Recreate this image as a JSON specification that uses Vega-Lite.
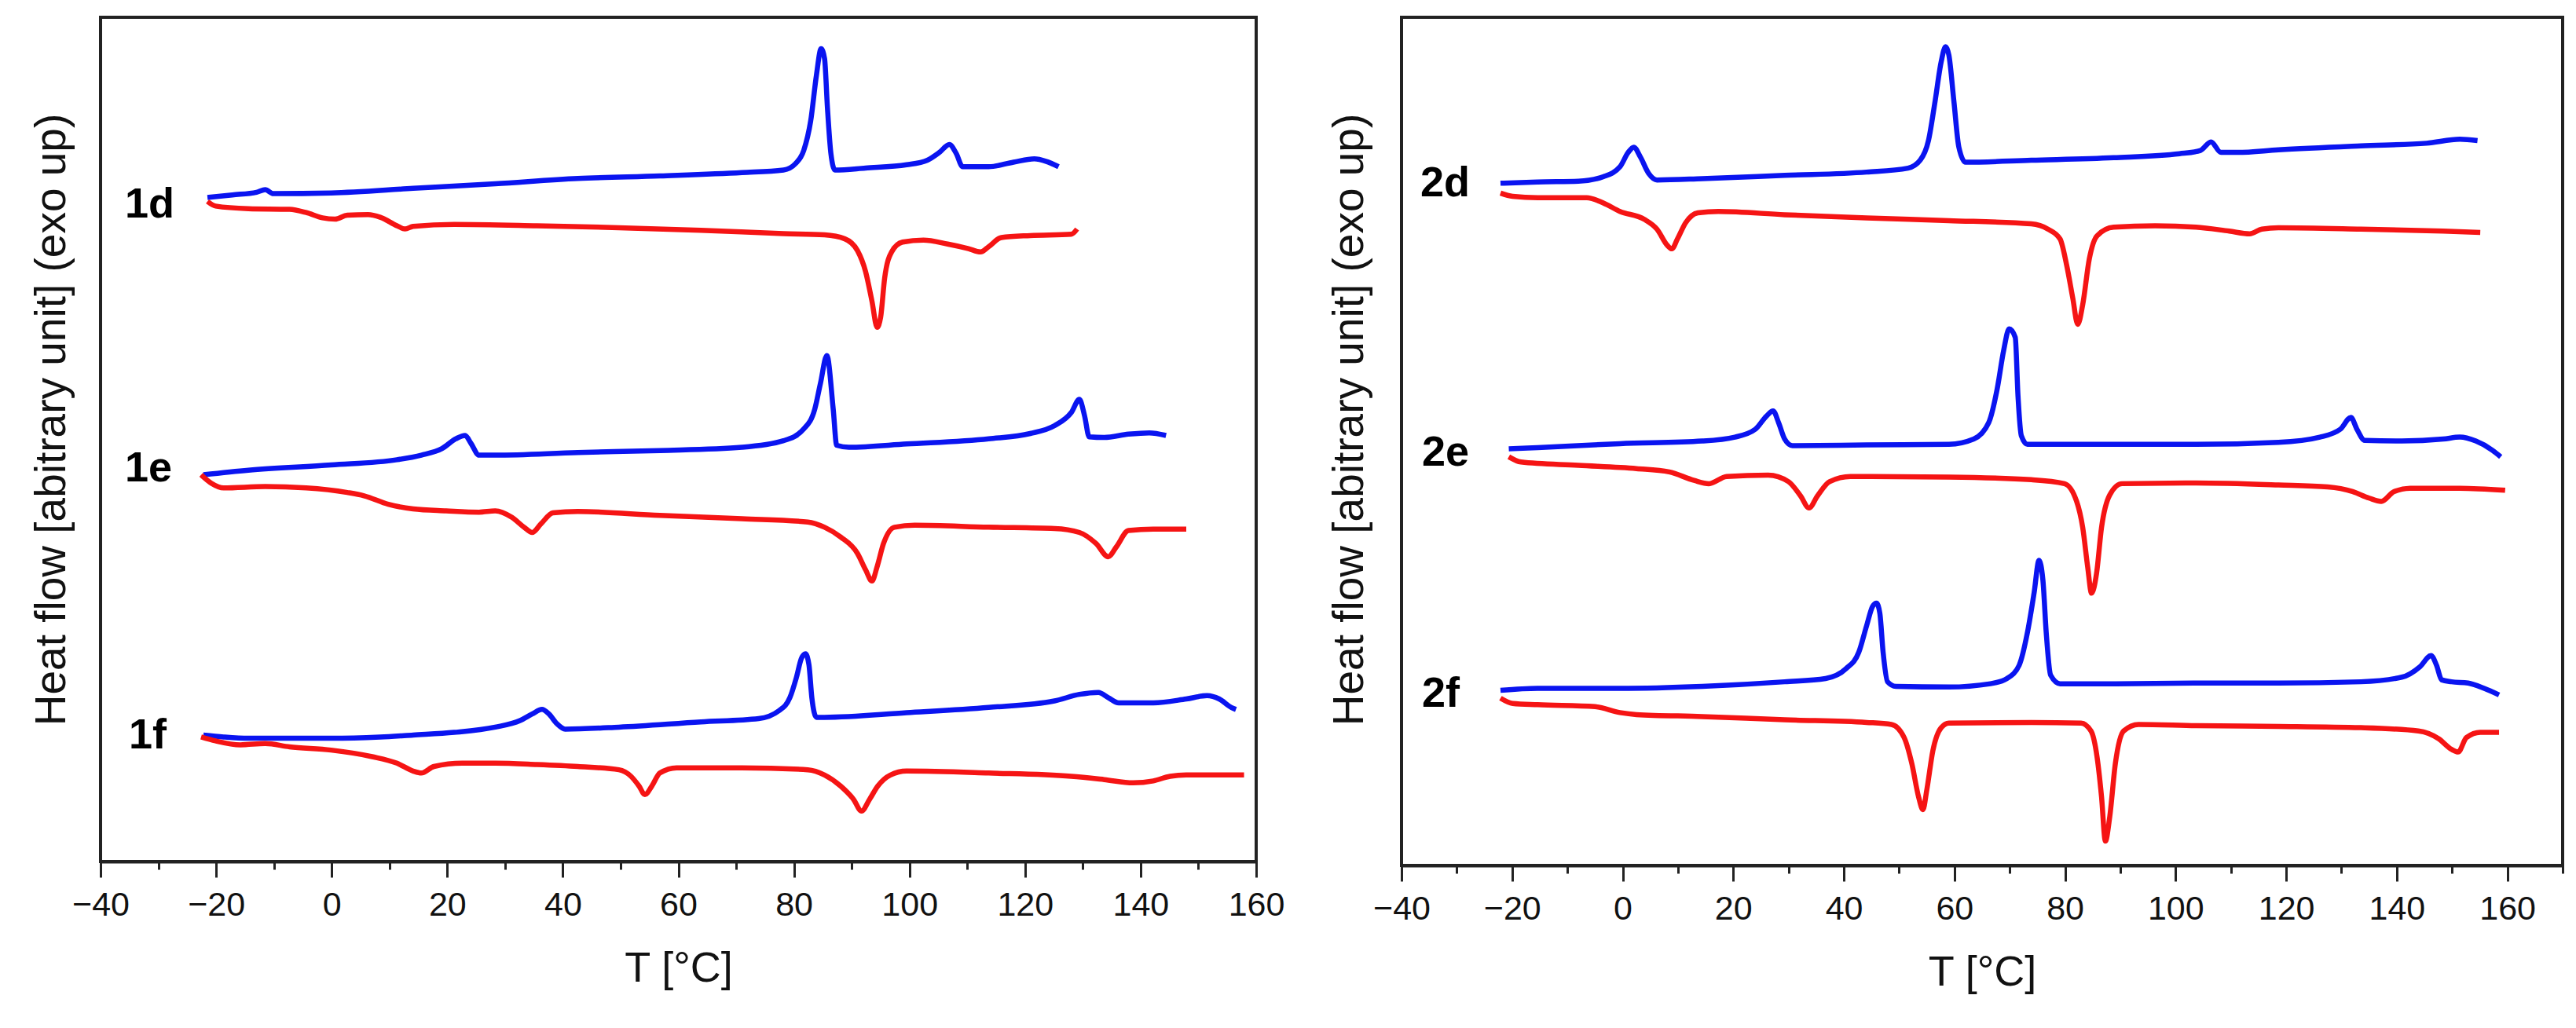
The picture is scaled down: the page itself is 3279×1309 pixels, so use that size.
{
 "$schema": "https://vega.github.io/schema/vega-lite/v6.json",
 "background": "white",
 "padding": {"left": 36, "top": 20, "right": 5, "bottom": 5},
 "spacing": 185,
 "bounds": "flush",
 "config": {
  "view": {"stroke": "#222222", "strokeWidth": 4},
  "font": "Liberation Sans",
  "axis": {"labelFont": "Liberation Sans", "labelFontSize": 43, "labelColor": "#111111", "titleFont": "Liberation Sans", "titleFontSize": 54, "titleFontWeight": "normal", "titleColor": "#111111", "domainColor": "#222222", "domainWidth": 4, "tickColor": "#222222", "tickWidth": 3, "grid": false}
 },
 "datasets": {
  "left": [
   {"sample":"1d","scan":"cooling","T":-21.5,"hf":101.3},{"sample":"1d","scan":"cooling","T":-17.2,"hf":101.7},{"sample":"1d","scan":"cooling","T":-13.0,"hf":102.1},{"sample":"1d","scan":"cooling","T":-11.5,"hf":102.5},{"sample":"1d","scan":"cooling","T":-10.1,"hf":101.9},{"sample":"1d","scan":"cooling","T":-0.1,"hf":102.0},{"sample":"1d","scan":"cooling","T":14.1,"hf":102.7},{"sample":"1d","scan":"cooling","T":28.3,"hf":103.4},{"sample":"1d","scan":"cooling","T":42.6,"hf":104.2},{"sample":"1d","scan":"cooling","T":56.8,"hf":104.6},{"sample":"1d","scan":"cooling","T":71.0,"hf":105.1},{"sample":"1d","scan":"cooling","T":78.2,"hf":105.5},{"sample":"1d","scan":"cooling","T":80.3,"hf":106.5},{"sample":"1d","scan":"cooling","T":81.7,"hf":108.5},{"sample":"1d","scan":"cooling","T":82.9,"hf":113.0},{"sample":"1d","scan":"cooling","T":83.9,"hf":120.0},{"sample":"1d","scan":"cooling","T":84.7,"hf":124.0},{"sample":"1d","scan":"cooling","T":85.3,"hf":122.5},{"sample":"1d","scan":"cooling","T":85.8,"hf":115.0},{"sample":"1d","scan":"cooling","T":86.4,"hf":108.0},{"sample":"1d","scan":"cooling","T":87.1,"hf":105.5},{"sample":"1d","scan":"cooling","T":92.4,"hf":105.8},{"sample":"1d","scan":"cooling","T":99.5,"hf":106.3},{"sample":"1d","scan":"cooling","T":103.1,"hf":107.0},{"sample":"1d","scan":"cooling","T":105.2,"hf":108.2},{"sample":"1d","scan":"cooling","T":106.9,"hf":109.4},{"sample":"1d","scan":"cooling","T":108.1,"hf":108.0},{"sample":"1d","scan":"cooling","T":109.2,"hf":106.0},{"sample":"1d","scan":"cooling","T":113.7,"hf":106.0},{"sample":"1d","scan":"cooling","T":118.0,"hf":106.7},{"sample":"1d","scan":"cooling","T":121.6,"hf":107.2},{"sample":"1d","scan":"cooling","T":123.7,"hf":106.8},{"sample":"1d","scan":"cooling","T":125.8,"hf":106.0},
   {"sample":"1d","scan":"heating","T":-21.5,"hf":100.7},{"sample":"1d","scan":"heating","T":-20.1,"hf":100.0},{"sample":"1d","scan":"heating","T":-14.4,"hf":99.6},{"sample":"1d","scan":"heating","T":-7.3,"hf":99.5},{"sample":"1d","scan":"heating","T":-4.4,"hf":99.0},{"sample":"1d","scan":"heating","T":-1.6,"hf":98.2},{"sample":"1d","scan":"heating","T":0.6,"hf":98.0},{"sample":"1d","scan":"heating","T":2.7,"hf":98.6},{"sample":"1d","scan":"heating","T":6.3,"hf":98.7},{"sample":"1d","scan":"heating","T":8.4,"hf":98.3},{"sample":"1d","scan":"heating","T":11.3,"hf":97.0},{"sample":"1d","scan":"heating","T":12.7,"hf":96.5},{"sample":"1d","scan":"heating","T":14.1,"hf":96.9},{"sample":"1d","scan":"heating","T":21.2,"hf":97.2},{"sample":"1d","scan":"heating","T":35.5,"hf":97.0},{"sample":"1d","scan":"heating","T":49.7,"hf":96.7},{"sample":"1d","scan":"heating","T":63.9,"hf":96.3},{"sample":"1d","scan":"heating","T":78.2,"hf":95.8},{"sample":"1d","scan":"heating","T":85.3,"hf":95.6},{"sample":"1d","scan":"heating","T":88.8,"hf":95.0},{"sample":"1d","scan":"heating","T":91.0,"hf":93.2},{"sample":"1d","scan":"heating","T":92.4,"hf":90.0},{"sample":"1d","scan":"heating","T":93.5,"hf":85.5},{"sample":"1d","scan":"heating","T":94.4,"hf":81.5},{"sample":"1d","scan":"heating","T":95.0,"hf":83.0},{"sample":"1d","scan":"heating","T":95.7,"hf":89.0},{"sample":"1d","scan":"heating","T":96.9,"hf":93.0},{"sample":"1d","scan":"heating","T":98.8,"hf":94.5},{"sample":"1d","scan":"heating","T":102.4,"hf":94.8},{"sample":"1d","scan":"heating","T":106.6,"hf":94.2},{"sample":"1d","scan":"heating","T":110.2,"hf":93.5},{"sample":"1d","scan":"heating","T":112.3,"hf":93.0},{"sample":"1d","scan":"heating","T":113.7,"hf":93.8},{"sample":"1d","scan":"heating","T":115.9,"hf":95.2},{"sample":"1d","scan":"heating","T":120.9,"hf":95.5},{"sample":"1d","scan":"heating","T":128.0,"hf":95.7},{"sample":"1d","scan":"heating","T":129.0,"hf":96.5},
   {"sample":"1e","scan":"cooling","T":-22.2,"hf":59.0},{"sample":"1e","scan":"cooling","T":-14.4,"hf":59.7},{"sample":"1e","scan":"cooling","T":-0.1,"hf":60.5},{"sample":"1e","scan":"cooling","T":11.3,"hf":61.3},{"sample":"1e","scan":"cooling","T":15.5,"hf":62.0},{"sample":"1e","scan":"cooling","T":19.1,"hf":63.0},{"sample":"1e","scan":"cooling","T":21.5,"hf":64.5},{"sample":"1e","scan":"cooling","T":23.1,"hf":65.0},{"sample":"1e","scan":"cooling","T":24.1,"hf":63.8},{"sample":"1e","scan":"cooling","T":25.5,"hf":62.0},{"sample":"1e","scan":"cooling","T":28.3,"hf":62.0},{"sample":"1e","scan":"cooling","T":42.6,"hf":62.4},{"sample":"1e","scan":"cooling","T":56.8,"hf":62.7},{"sample":"1e","scan":"cooling","T":71.0,"hf":63.2},{"sample":"1e","scan":"cooling","T":78.2,"hf":64.2},{"sample":"1e","scan":"cooling","T":81.7,"hf":66.0},{"sample":"1e","scan":"cooling","T":83.6,"hf":69.0},{"sample":"1e","scan":"cooling","T":84.6,"hf":73.0},{"sample":"1e","scan":"cooling","T":85.7,"hf":77.2},{"sample":"1e","scan":"cooling","T":86.8,"hf":69.0},{"sample":"1e","scan":"cooling","T":87.4,"hf":63.5},{"sample":"1e","scan":"cooling","T":89.5,"hf":63.2},{"sample":"1e","scan":"cooling","T":99.5,"hf":63.7},{"sample":"1e","scan":"cooling","T":113.7,"hf":64.5},{"sample":"1e","scan":"cooling","T":120.9,"hf":65.3},{"sample":"1e","scan":"cooling","T":125.1,"hf":66.5},{"sample":"1e","scan":"cooling","T":128.0,"hf":68.5},{"sample":"1e","scan":"cooling","T":129.4,"hf":70.5},{"sample":"1e","scan":"cooling","T":130.3,"hf":68.0},{"sample":"1e","scan":"cooling","T":131.1,"hf":64.8},{"sample":"1e","scan":"cooling","T":133.7,"hf":64.7},{"sample":"1e","scan":"cooling","T":137.9,"hf":65.2},{"sample":"1e","scan":"cooling","T":141.5,"hf":65.4},{"sample":"1e","scan":"cooling","T":144.4,"hf":65.0},
   {"sample":"1e","scan":"heating","T":-22.6,"hf":59.0},{"sample":"1e","scan":"heating","T":-20.8,"hf":57.7},{"sample":"1e","scan":"heating","T":-18.7,"hf":57.0},{"sample":"1e","scan":"heating","T":-11.5,"hf":57.2},{"sample":"1e","scan":"heating","T":-4.4,"hf":57.0},{"sample":"1e","scan":"heating","T":2.7,"hf":56.3},{"sample":"1e","scan":"heating","T":5.6,"hf":55.8},{"sample":"1e","scan":"heating","T":9.8,"hf":54.5},{"sample":"1e","scan":"heating","T":14.1,"hf":53.8},{"sample":"1e","scan":"heating","T":19.8,"hf":53.5},{"sample":"1e","scan":"heating","T":25.5,"hf":53.3},{"sample":"1e","scan":"heating","T":28.3,"hf":53.5},{"sample":"1e","scan":"heating","T":31.2,"hf":52.5},{"sample":"1e","scan":"heating","T":33.3,"hf":51.0},{"sample":"1e","scan":"heating","T":34.7,"hf":50.2},{"sample":"1e","scan":"heating","T":36.2,"hf":51.5},{"sample":"1e","scan":"heating","T":38.3,"hf":53.2},{"sample":"1e","scan":"heating","T":42.6,"hf":53.4},{"sample":"1e","scan":"heating","T":56.8,"hf":52.8},{"sample":"1e","scan":"heating","T":71.0,"hf":52.3},{"sample":"1e","scan":"heating","T":82.4,"hf":51.8},{"sample":"1e","scan":"heating","T":85.3,"hf":51.0},{"sample":"1e","scan":"heating","T":88.1,"hf":49.5},{"sample":"1e","scan":"heating","T":91.0,"hf":47.0},{"sample":"1e","scan":"heating","T":92.4,"hf":44.5},{"sample":"1e","scan":"heating","T":93.5,"hf":42.8},{"sample":"1e","scan":"heating","T":94.4,"hf":45.0},{"sample":"1e","scan":"heating","T":95.5,"hf":48.5},{"sample":"1e","scan":"heating","T":97.4,"hf":51.0},{"sample":"1e","scan":"heating","T":100.9,"hf":51.3},{"sample":"1e","scan":"heating","T":113.7,"hf":51.0},{"sample":"1e","scan":"heating","T":125.1,"hf":50.8},{"sample":"1e","scan":"heating","T":129.4,"hf":50.2},{"sample":"1e","scan":"heating","T":132.3,"hf":48.5},{"sample":"1e","scan":"heating","T":134.4,"hf":46.5},{"sample":"1e","scan":"heating","T":135.8,"hf":48.0},{"sample":"1e","scan":"heating","T":137.9,"hf":50.5},{"sample":"1e","scan":"heating","T":142.2,"hf":50.7},{"sample":"1e","scan":"heating","T":147.9,"hf":50.7},
   {"sample":"1f","scan":"cooling","T":-22.2,"hf":19.3},{"sample":"1f","scan":"cooling","T":-18.7,"hf":19.0},{"sample":"1f","scan":"cooling","T":-14.4,"hf":18.8},{"sample":"1f","scan":"cooling","T":-0.1,"hf":18.8},{"sample":"1f","scan":"cooling","T":8.4,"hf":19.0},{"sample":"1f","scan":"cooling","T":14.1,"hf":19.3},{"sample":"1f","scan":"cooling","T":21.2,"hf":19.7},{"sample":"1f","scan":"cooling","T":28.3,"hf":20.5},{"sample":"1f","scan":"cooling","T":32.6,"hf":21.5},{"sample":"1f","scan":"cooling","T":34.7,"hf":22.5},{"sample":"1f","scan":"cooling","T":36.4,"hf":23.2},{"sample":"1f","scan":"cooling","T":37.6,"hf":22.5},{"sample":"1f","scan":"cooling","T":39.0,"hf":21.0},{"sample":"1f","scan":"cooling","T":40.4,"hf":20.2},{"sample":"1f","scan":"cooling","T":49.7,"hf":20.5},{"sample":"1f","scan":"cooling","T":63.9,"hf":21.3},{"sample":"1f","scan":"cooling","T":73.9,"hf":21.8},{"sample":"1f","scan":"cooling","T":77.4,"hf":23.0},{"sample":"1f","scan":"cooling","T":79.3,"hf":25.0},{"sample":"1f","scan":"cooling","T":80.4,"hf":28.0},{"sample":"1f","scan":"cooling","T":81.3,"hf":31.0},{"sample":"1f","scan":"cooling","T":82.0,"hf":31.7},{"sample":"1f","scan":"cooling","T":82.6,"hf":30.0},{"sample":"1f","scan":"cooling","T":83.1,"hf":25.0},{"sample":"1f","scan":"cooling","T":83.9,"hf":22.0},{"sample":"1f","scan":"cooling","T":85.3,"hf":22.0},{"sample":"1f","scan":"cooling","T":99.5,"hf":22.7},{"sample":"1f","scan":"cooling","T":113.7,"hf":23.5},{"sample":"1f","scan":"cooling","T":125.1,"hf":24.5},{"sample":"1f","scan":"cooling","T":129.4,"hf":25.5},{"sample":"1f","scan":"cooling","T":132.7,"hf":25.8},{"sample":"1f","scan":"cooling","T":134.4,"hf":25.0},{"sample":"1f","scan":"cooling","T":136.2,"hf":24.2},{"sample":"1f","scan":"cooling","T":142.2,"hf":24.2},{"sample":"1f","scan":"cooling","T":147.9,"hf":24.8},{"sample":"1f","scan":"cooling","T":151.5,"hf":25.3},{"sample":"1f","scan":"cooling","T":153.6,"hf":24.8},{"sample":"1f","scan":"cooling","T":155.7,"hf":23.5},{"sample":"1f","scan":"cooling","T":156.5,"hf":23.2},
   {"sample":"1f","scan":"heating","T":-22.6,"hf":19.0},{"sample":"1f","scan":"heating","T":-20.1,"hf":18.4},{"sample":"1f","scan":"heating","T":-15.8,"hf":17.8},{"sample":"1f","scan":"heating","T":-11.5,"hf":18.0},{"sample":"1f","scan":"heating","T":-7.3,"hf":17.5},{"sample":"1f","scan":"heating","T":-0.1,"hf":17.0},{"sample":"1f","scan":"heating","T":7.0,"hf":16.0},{"sample":"1f","scan":"heating","T":11.3,"hf":15.0},{"sample":"1f","scan":"heating","T":14.1,"hf":13.8},{"sample":"1f","scan":"heating","T":15.5,"hf":13.5},{"sample":"1f","scan":"heating","T":17.7,"hf":14.5},{"sample":"1f","scan":"heating","T":22.6,"hf":15.0},{"sample":"1f","scan":"heating","T":28.3,"hf":15.0},{"sample":"1f","scan":"heating","T":35.5,"hf":14.8},{"sample":"1f","scan":"heating","T":42.6,"hf":14.5},{"sample":"1f","scan":"heating","T":49.7,"hf":14.0},{"sample":"1f","scan":"heating","T":51.8,"hf":13.0},{"sample":"1f","scan":"heating","T":53.2,"hf":11.5},{"sample":"1f","scan":"heating","T":54.2,"hf":10.2},{"sample":"1f","scan":"heating","T":55.4,"hf":11.5},{"sample":"1f","scan":"heating","T":56.8,"hf":13.5},{"sample":"1f","scan":"heating","T":59.7,"hf":14.3},{"sample":"1f","scan":"heating","T":71.0,"hf":14.3},{"sample":"1f","scan":"heating","T":82.4,"hf":14.0},{"sample":"1f","scan":"heating","T":85.3,"hf":13.2},{"sample":"1f","scan":"heating","T":88.1,"hf":11.5},{"sample":"1f","scan":"heating","T":90.3,"hf":9.5},{"sample":"1f","scan":"heating","T":91.7,"hf":7.7},{"sample":"1f","scan":"heating","T":93.1,"hf":9.5},{"sample":"1f","scan":"heating","T":94.5,"hf":11.5},{"sample":"1f","scan":"heating","T":96.7,"hf":13.2},{"sample":"1f","scan":"heating","T":99.5,"hf":13.8},{"sample":"1f","scan":"heating","T":113.7,"hf":13.5},{"sample":"1f","scan":"heating","T":128.0,"hf":13.0},{"sample":"1f","scan":"heating","T":133.7,"hf":12.5},{"sample":"1f","scan":"heating","T":138.7,"hf":12.0},{"sample":"1f","scan":"heating","T":142.2,"hf":12.3},{"sample":"1f","scan":"heating","T":145.1,"hf":13.0},{"sample":"1f","scan":"heating","T":147.9,"hf":13.2},{"sample":"1f","scan":"heating","T":157.9,"hf":13.2}
  ],
  "right": [
   {"sample":"2d","scan":"cooling","T":-22.1,"hf":104.0},{"sample":"2d","scan":"cooling","T":-15.4,"hf":104.2},{"sample":"2d","scan":"cooling","T":-8.0,"hf":104.3},{"sample":"2d","scan":"cooling","T":-3.5,"hf":105.0},{"sample":"2d","scan":"cooling","T":-0.5,"hf":106.5},{"sample":"2d","scan":"cooling","T":1.0,"hf":108.7},{"sample":"2d","scan":"cooling","T":2.0,"hf":109.5},{"sample":"2d","scan":"cooling","T":3.2,"hf":108.0},{"sample":"2d","scan":"cooling","T":4.7,"hf":105.5},{"sample":"2d","scan":"cooling","T":6.2,"hf":104.5},{"sample":"2d","scan":"cooling","T":14.4,"hf":104.7},{"sample":"2d","scan":"cooling","T":29.3,"hf":105.2},{"sample":"2d","scan":"cooling","T":44.1,"hf":105.7},{"sample":"2d","scan":"cooling","T":51.6,"hf":106.3},{"sample":"2d","scan":"cooling","T":53.8,"hf":107.5},{"sample":"2d","scan":"cooling","T":55.3,"hf":110.5},{"sample":"2d","scan":"cooling","T":56.5,"hf":116.5},{"sample":"2d","scan":"cooling","T":57.6,"hf":122.5},{"sample":"2d","scan":"cooling","T":58.4,"hf":124.8},{"sample":"2d","scan":"cooling","T":59.0,"hf":123.5},{"sample":"2d","scan":"cooling","T":59.9,"hf":116.5},{"sample":"2d","scan":"cooling","T":60.8,"hf":109.5},{"sample":"2d","scan":"cooling","T":62.0,"hf":107.2},{"sample":"2d","scan":"cooling","T":73.9,"hf":107.5},{"sample":"2d","scan":"cooling","T":88.8,"hf":107.9},{"sample":"2d","scan":"cooling","T":100.7,"hf":108.5},{"sample":"2d","scan":"cooling","T":104.5,"hf":109.0},{"sample":"2d","scan":"cooling","T":106.4,"hf":110.3},{"sample":"2d","scan":"cooling","T":108.2,"hf":108.7},{"sample":"2d","scan":"cooling","T":111.2,"hf":108.7},{"sample":"2d","scan":"cooling","T":118.6,"hf":109.1},{"sample":"2d","scan":"cooling","T":133.5,"hf":109.7},{"sample":"2d","scan":"cooling","T":145.4,"hf":110.1},{"sample":"2d","scan":"cooling","T":151.4,"hf":110.7},{"sample":"2d","scan":"cooling","T":154.6,"hf":110.5},
   {"sample":"2d","scan":"heating","T":-22.1,"hf":102.5},{"sample":"2d","scan":"heating","T":-19.9,"hf":102.0},{"sample":"2d","scan":"heating","T":-15.4,"hf":101.8},{"sample":"2d","scan":"heating","T":-6.5,"hf":101.8},{"sample":"2d","scan":"heating","T":-3.5,"hf":101.0},{"sample":"2d","scan":"heating","T":-0.5,"hf":99.7},{"sample":"2d","scan":"heating","T":3.9,"hf":98.5},{"sample":"2d","scan":"heating","T":6.2,"hf":97.0},{"sample":"2d","scan":"heating","T":8.1,"hf":94.5},{"sample":"2d","scan":"heating","T":8.9,"hf":94.0},{"sample":"2d","scan":"heating","T":9.9,"hf":95.5},{"sample":"2d","scan":"heating","T":11.4,"hf":98.0},{"sample":"2d","scan":"heating","T":13.6,"hf":99.5},{"sample":"2d","scan":"heating","T":17.3,"hf":99.7},{"sample":"2d","scan":"heating","T":29.3,"hf":99.2},{"sample":"2d","scan":"heating","T":44.1,"hf":98.7},{"sample":"2d","scan":"heating","T":59.0,"hf":98.3},{"sample":"2d","scan":"heating","T":73.9,"hf":97.8},{"sample":"2d","scan":"heating","T":76.9,"hf":97.0},{"sample":"2d","scan":"heating","T":79.1,"hf":95.5},{"sample":"2d","scan":"heating","T":80.3,"hf":91.5},{"sample":"2d","scan":"heating","T":81.4,"hf":86.5},{"sample":"2d","scan":"heating","T":82.3,"hf":82.5},{"sample":"2d","scan":"heating","T":83.2,"hf":85.5},{"sample":"2d","scan":"heating","T":84.4,"hf":92.5},{"sample":"2d","scan":"heating","T":85.8,"hf":96.0},{"sample":"2d","scan":"heating","T":88.8,"hf":97.3},{"sample":"2d","scan":"heating","T":96.3,"hf":97.5},{"sample":"2d","scan":"heating","T":103.7,"hf":97.3},{"sample":"2d","scan":"heating","T":109.7,"hf":96.7},{"sample":"2d","scan":"heating","T":113.4,"hf":96.3},{"sample":"2d","scan":"heating","T":115.6,"hf":97.0},{"sample":"2d","scan":"heating","T":118.6,"hf":97.2},{"sample":"2d","scan":"heating","T":133.5,"hf":97.0},{"sample":"2d","scan":"heating","T":148.4,"hf":96.7},{"sample":"2d","scan":"heating","T":155.1,"hf":96.5},
   {"sample":"2e","scan":"cooling","T":-20.6,"hf":63.5},{"sample":"2e","scan":"cooling","T":-15.4,"hf":63.7},{"sample":"2e","scan":"cooling","T":-0.5,"hf":64.3},{"sample":"2e","scan":"cooling","T":14.4,"hf":64.7},{"sample":"2e","scan":"cooling","T":20.3,"hf":65.3},{"sample":"2e","scan":"cooling","T":24.0,"hf":66.5},{"sample":"2e","scan":"cooling","T":26.0,"hf":68.5},{"sample":"2e","scan":"cooling","T":27.2,"hf":69.3},{"sample":"2e","scan":"cooling","T":28.2,"hf":67.5},{"sample":"2e","scan":"cooling","T":29.3,"hf":65.0},{"sample":"2e","scan":"cooling","T":30.7,"hf":64.0},{"sample":"2e","scan":"cooling","T":44.1,"hf":64.1},{"sample":"2e","scan":"cooling","T":59.0,"hf":64.2},{"sample":"2e","scan":"cooling","T":63.5,"hf":65.0},{"sample":"2e","scan":"cooling","T":66.2,"hf":67.5},{"sample":"2e","scan":"cooling","T":67.7,"hf":72.5},{"sample":"2e","scan":"cooling","T":68.9,"hf":78.5},{"sample":"2e","scan":"cooling","T":69.9,"hf":81.8},{"sample":"2e","scan":"cooling","T":71.0,"hf":80.5},{"sample":"2e","scan":"cooling","T":71.5,"hf":71.5},{"sample":"2e","scan":"cooling","T":72.1,"hf":65.5},{"sample":"2e","scan":"cooling","T":73.2,"hf":64.2},{"sample":"2e","scan":"cooling","T":88.8,"hf":64.2},{"sample":"2e","scan":"cooling","T":103.7,"hf":64.2},{"sample":"2e","scan":"cooling","T":118.6,"hf":64.5},{"sample":"2e","scan":"cooling","T":126.1,"hf":65.3},{"sample":"2e","scan":"cooling","T":129.8,"hf":66.5},{"sample":"2e","scan":"cooling","T":131.7,"hf":68.3},{"sample":"2e","scan":"cooling","T":132.8,"hf":66.5},{"sample":"2e","scan":"cooling","T":134.2,"hf":64.8},{"sample":"2e","scan":"cooling","T":140.9,"hf":64.7},{"sample":"2e","scan":"cooling","T":148.4,"hf":65.0},{"sample":"2e","scan":"cooling","T":151.4,"hf":65.3},{"sample":"2e","scan":"cooling","T":154.3,"hf":64.7},{"sample":"2e","scan":"cooling","T":157.3,"hf":63.3},{"sample":"2e","scan":"cooling","T":158.8,"hf":62.3},
   {"sample":"2e","scan":"heating","T":-20.6,"hf":62.3},{"sample":"2e","scan":"heating","T":-18.4,"hf":61.5},{"sample":"2e","scan":"heating","T":-8.0,"hf":61.0},{"sample":"2e","scan":"heating","T":2.5,"hf":60.5},{"sample":"2e","scan":"heating","T":8.4,"hf":60.0},{"sample":"2e","scan":"heating","T":12.9,"hf":58.7},{"sample":"2e","scan":"heating","T":15.6,"hf":58.2},{"sample":"2e","scan":"heating","T":18.8,"hf":59.3},{"sample":"2e","scan":"heating","T":26.3,"hf":59.5},{"sample":"2e","scan":"heating","T":30.0,"hf":58.5},{"sample":"2e","scan":"heating","T":32.2,"hf":56.3},{"sample":"2e","scan":"heating","T":33.7,"hf":54.5},{"sample":"2e","scan":"heating","T":35.2,"hf":56.3},{"sample":"2e","scan":"heating","T":37.4,"hf":58.5},{"sample":"2e","scan":"heating","T":41.2,"hf":59.3},{"sample":"2e","scan":"heating","T":59.0,"hf":59.2},{"sample":"2e","scan":"heating","T":73.9,"hf":58.8},{"sample":"2e","scan":"heating","T":79.9,"hf":58.2},{"sample":"2e","scan":"heating","T":82.1,"hf":55.5},{"sample":"2e","scan":"heating","T":83.2,"hf":51.5},{"sample":"2e","scan":"heating","T":84.1,"hf":45.5},{"sample":"2e","scan":"heating","T":84.8,"hf":41.5},{"sample":"2e","scan":"heating","T":85.7,"hf":44.5},{"sample":"2e","scan":"heating","T":86.6,"hf":51.5},{"sample":"2e","scan":"heating","T":88.1,"hf":56.5},{"sample":"2e","scan":"heating","T":90.3,"hf":58.2},{"sample":"2e","scan":"heating","T":103.7,"hf":58.3},{"sample":"2e","scan":"heating","T":118.6,"hf":58.0},{"sample":"2e","scan":"heating","T":127.5,"hf":57.7},{"sample":"2e","scan":"heating","T":132.0,"hf":57.0},{"sample":"2e","scan":"heating","T":135.0,"hf":56.0},{"sample":"2e","scan":"heating","T":137.2,"hf":55.5},{"sample":"2e","scan":"heating","T":139.5,"hf":57.0},{"sample":"2e","scan":"heating","T":142.4,"hf":57.5},{"sample":"2e","scan":"heating","T":151.4,"hf":57.5},{"sample":"2e","scan":"heating","T":159.6,"hf":57.2},
   {"sample":"2f","scan":"cooling","T":-22.1,"hf":26.7},{"sample":"2f","scan":"cooling","T":-15.4,"hf":27.0},{"sample":"2f","scan":"cooling","T":-0.5,"hf":27.0},{"sample":"2f","scan":"cooling","T":14.4,"hf":27.3},{"sample":"2f","scan":"cooling","T":29.3,"hf":28.0},{"sample":"2f","scan":"cooling","T":36.7,"hf":28.5},{"sample":"2f","scan":"cooling","T":40.4,"hf":30.0},{"sample":"2f","scan":"cooling","T":42.7,"hf":32.5},{"sample":"2f","scan":"cooling","T":44.1,"hf":36.5},{"sample":"2f","scan":"cooling","T":45.2,"hf":39.5},{"sample":"2f","scan":"cooling","T":45.9,"hf":40.0},{"sample":"2f","scan":"cooling","T":46.5,"hf":38.5},{"sample":"2f","scan":"cooling","T":47.1,"hf":32.5},{"sample":"2f","scan":"cooling","T":47.9,"hf":28.0},{"sample":"2f","scan":"cooling","T":49.4,"hf":27.3},{"sample":"2f","scan":"cooling","T":59.0,"hf":27.2},{"sample":"2f","scan":"cooling","T":66.5,"hf":27.7},{"sample":"2f","scan":"cooling","T":69.5,"hf":28.5},{"sample":"2f","scan":"cooling","T":71.7,"hf":30.5},{"sample":"2f","scan":"cooling","T":73.2,"hf":35.5},{"sample":"2f","scan":"cooling","T":74.4,"hf":41.5},{"sample":"2f","scan":"cooling","T":75.3,"hf":46.5},{"sample":"2f","scan":"cooling","T":76.0,"hf":43.5},{"sample":"2f","scan":"cooling","T":76.6,"hf":35.5},{"sample":"2f","scan":"cooling","T":77.4,"hf":29.0},{"sample":"2f","scan":"cooling","T":79.1,"hf":27.7},{"sample":"2f","scan":"cooling","T":88.8,"hf":27.7},{"sample":"2f","scan":"cooling","T":103.7,"hf":27.8},{"sample":"2f","scan":"cooling","T":118.6,"hf":27.8},{"sample":"2f","scan":"cooling","T":133.5,"hf":28.0},{"sample":"2f","scan":"cooling","T":140.9,"hf":28.7},{"sample":"2f","scan":"cooling","T":144.2,"hf":30.3},{"sample":"2f","scan":"cooling","T":146.2,"hf":32.0},{"sample":"2f","scan":"cooling","T":147.2,"hf":30.5},{"sample":"2f","scan":"cooling","T":148.1,"hf":28.3},{"sample":"2f","scan":"cooling","T":149.9,"hf":28.0},{"sample":"2f","scan":"cooling","T":152.9,"hf":27.8},{"sample":"2f","scan":"cooling","T":155.8,"hf":27.0},{"sample":"2f","scan":"cooling","T":158.5,"hf":26.0},
   {"sample":"2f","scan":"heating","T":-22.1,"hf":25.5},{"sample":"2f","scan":"heating","T":-19.9,"hf":24.7},{"sample":"2f","scan":"heating","T":-15.4,"hf":24.5},{"sample":"2f","scan":"heating","T":-5.0,"hf":24.2},{"sample":"2f","scan":"heating","T":-0.5,"hf":23.3},{"sample":"2f","scan":"heating","T":2.5,"hf":23.0},{"sample":"2f","scan":"heating","T":14.4,"hf":22.7},{"sample":"2f","scan":"heating","T":29.3,"hf":22.2},{"sample":"2f","scan":"heating","T":44.1,"hf":21.8},{"sample":"2f","scan":"heating","T":48.6,"hf":21.5},{"sample":"2f","scan":"heating","T":50.9,"hf":19.5},{"sample":"2f","scan":"heating","T":52.3,"hf":15.5},{"sample":"2f","scan":"heating","T":53.5,"hf":10.5},{"sample":"2f","scan":"heating","T":54.3,"hf":8.5},{"sample":"2f","scan":"heating","T":55.0,"hf":11.5},{"sample":"2f","scan":"heating","T":56.1,"hf":17.5},{"sample":"2f","scan":"heating","T":57.6,"hf":21.0},{"sample":"2f","scan":"heating","T":59.0,"hf":21.7},{"sample":"2f","scan":"heating","T":73.9,"hf":21.8},{"sample":"2f","scan":"heating","T":82.9,"hf":21.7},{"sample":"2f","scan":"heating","T":84.7,"hf":20.5},{"sample":"2f","scan":"heating","T":85.8,"hf":16.5},{"sample":"2f","scan":"heating","T":86.6,"hf":10.5},{"sample":"2f","scan":"heating","T":87.3,"hf":3.7},{"sample":"2f","scan":"heating","T":88.1,"hf":7.5},{"sample":"2f","scan":"heating","T":89.1,"hf":15.5},{"sample":"2f","scan":"heating","T":90.6,"hf":20.5},{"sample":"2f","scan":"heating","T":93.3,"hf":21.5},{"sample":"2f","scan":"heating","T":103.7,"hf":21.3},{"sample":"2f","scan":"heating","T":118.6,"hf":21.2},{"sample":"2f","scan":"heating","T":133.5,"hf":21.0},{"sample":"2f","scan":"heating","T":143.9,"hf":20.5},{"sample":"2f","scan":"heating","T":147.6,"hf":19.3},{"sample":"2f","scan":"heating","T":149.9,"hf":17.7},{"sample":"2f","scan":"heating","T":151.1,"hf":17.3},{"sample":"2f","scan":"heating","T":152.6,"hf":19.5},{"sample":"2f","scan":"heating","T":155.1,"hf":20.3},{"sample":"2f","scan":"heating","T":158.5,"hf":20.3}
  ],
  "leftLabels": [
   {"label":"1d","T":-35.8,"hf":98.2},{"label":"1e","T":-35.8,"hf":58.0},{"label":"1f","T":-35.1,"hf":17.2}
  ],
  "rightLabels": [
   {"label":"2d","T":-36.6,"hf":102.0},{"label":"2e","T":-36.3,"hf":60.9},{"label":"2f","T":-36.3,"hf":24.2}
  ]
 },
 "hconcat": [
  {
   "width": 1471, "height": 1075,
   "layer": [
    {
     "data": {"name": "left"},
     "mark": {"type": "line", "strokeWidth": 6.5, "interpolate": "monotone"},
     "encoding": {
      "x": {"field": "T", "type": "quantitative", "scale": {"domain": [-40, 160], "nice": false, "zero": false},
            "axis": {"title": "T [°C]", "values": [-40,-30,-20,-10,0,10,20,30,40,50,60,70,80,90,100,110,120,130,140,150,160],
                     "tickSize": {"condition": {"test": "datum.value % 20 !== 0", "value": 10}, "value": 20},
                     "labelExpr": "datum.value % 20 === 0 ? datum.label : ''", "labelPadding": 14, "titlePadding": 32, "labelFlush": false, "labelOverlap": false}},
      "y": {"field": "hf", "type": "quantitative", "scale": {"domain": [0, 128.8], "nice": false, "zero": false},
            "axis": {"title": "Heat flow [abitrary unit] (exo up)", "labels": false, "ticks": false, "domain": false, "titlePadding": 34, "titleFontSize": 55, "titleY": 512}},
      "color": {"field": "scan", "type": "nominal", "scale": {"domain": ["cooling", "heating"], "range": ["#0a14f0", "#f51414"]}, "legend": null},
      "detail": {"field": "sample", "type": "nominal"}
     }
    },
    {
     "data": {"name": "leftLabels"},
     "mark": {"type": "text", "align": "left", "baseline": "alphabetic", "fontSize": 54, "fontWeight": "bold", "font": "Liberation Sans", "color": "#000000"},
     "encoding": {
      "x": {"field": "T", "type": "quantitative"},
      "y": {"field": "hf", "type": "quantitative"},
      "text": {"field": "label", "type": "nominal"}
     }
    }
   ]
  },
  {
   "width": 1478, "height": 1080,
   "layer": [
    {
     "data": {"name": "right"},
     "mark": {"type": "line", "strokeWidth": 6.5, "interpolate": "monotone"},
     "encoding": {
      "x": {"field": "T", "type": "quantitative", "scale": {"domain": [-40, 170], "nice": false, "zero": false},
            "axis": {"title": "T [°C]", "values": [-40,-30,-20,-10,0,10,20,30,40,50,60,70,80,90,100,110,120,130,140,150,160,170],
                     "tickSize": {"condition": {"test": "datum.value % 20 !== 0", "value": 10}, "value": 20},
                     "labelExpr": "datum.value % 20 === 0 ? datum.label : ''", "labelPadding": 14, "titlePadding": 32, "labelFlush": false, "labelOverlap": false}},
      "y": {"field": "hf", "type": "quantitative", "scale": {"domain": [0, 129.3], "nice": false, "zero": false},
            "axis": {"title": "Heat flow [abitrary unit] (exo up)", "labels": false, "ticks": false, "domain": false, "titlePadding": 38, "titleFontSize": 55, "titleY": 512}},
      "color": {"field": "scan", "type": "nominal", "scale": {"domain": ["cooling", "heating"], "range": ["#0a14f0", "#f51414"]}, "legend": null},
      "detail": {"field": "sample", "type": "nominal"}
     }
    },
    {
     "data": {"name": "rightLabels"},
     "mark": {"type": "text", "align": "left", "baseline": "alphabetic", "fontSize": 54, "fontWeight": "bold", "font": "Liberation Sans", "color": "#000000"},
     "encoding": {
      "x": {"field": "T", "type": "quantitative"},
      "y": {"field": "hf", "type": "quantitative"},
      "text": {"field": "label", "type": "nominal"}
     }
    }
   ]
  }
 ]
}
